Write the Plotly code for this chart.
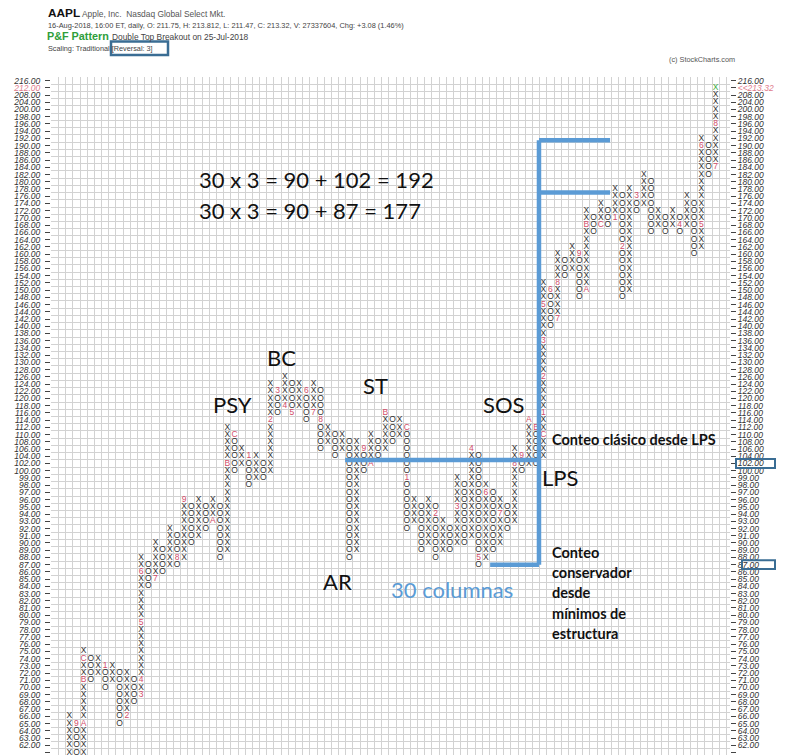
import numpy as np
import plotly.graph_objects as go

# traditional P&F box scale, top row first (box 4 above 200, 2 from 100, 1 below 100)
BOXES = [216, 212, 208, 204] + list(range(200, 99, -2)) + list(range(99, 56, -1))

# one entry per column: first box and last box (X columns rise, O columns fall)
COL_FROM = [58, 65, 58, 74, 72, 73, 71, 72, 66, 71,
            69, 87, 85, 89, 87, 91, 88, 95, 91, 95,
            93, 95, 89, 110, 102, 104, 99, 102, 100, 122,
            118, 124, 118, 122, 116, 122, 108, 110, 106, 108,
            89, 106, 102, 108, 106, 114, 110, 112, 93, 95,
            90, 95, 89, 92, 90, 98, 91, 104, 88, 97,
            90, 95, 93, 104, 102, 112, 104, 150, 142, 158,
            156, 160, 150, 170, 168, 172, 170, 176, 150, 176,
            174, 180, 168, 170, 168, 170, 168, 174, 162, 190,
            184]
COL_TO = [66, 57, 75, 71, 74, 70, 73, 65, 72, 68,
          88, 84, 90, 86, 92, 87, 96, 90, 96, 92,
          96, 88, 112, 100, 106, 98, 104, 99, 124, 116,
          126, 116, 124, 114, 124, 106, 112, 104, 110, 88,
          108, 100, 110, 104, 116, 108, 114, 92, 96, 89,
          96, 88, 93, 89, 99, 90, 106, 87, 98, 89,
          96, 92, 106, 100, 114, 102, 152, 140, 160, 154,
          162, 148, 172, 166, 174, 168, 178, 148, 178, 172,
          182, 166, 172, 166, 172, 166, 176, 160, 192, 182,
          212]

# month markers shown instead of the X/O (1-9 = Jan-Sep, A-C = Oct-Dec)
MONTH_COL = [1, 2, 2, 2, 5, 8, 10, 10, 10, 10, 12, 15, 16, 20, 22, 23, 25, 28, 29, 30,
             31, 33, 34, 35, 41, 42, 44, 47, 47, 51, 54, 56, 57, 58, 60, 62, 63, 64, 65, 66,
             66, 66, 66, 66, 67, 68, 68, 71, 72, 72, 74, 76, 77, 79, 85, 88, 88, 90, 90]
MONTH_BOX = [65, 65, 71, 74, 73, 66, 69, 71, 79, 86, 85, 88, 96, 93, 102, 110, 104, 114, 122, 118,
             116, 122, 116, 114, 106, 102, 116, 112, 99, 94, 95, 106, 88, 97, 94, 102, 104, 114, 112, 110,
             116, 126, 136, 146, 150, 142, 152, 160, 150, 168, 168, 170, 162, 176, 168, 168, 190, 184, 196]
MONTH_TXT = ["9", "A", "B", "C", "1", "2", "3", "4", "5", "6", "7", "8", "9", "A", "B", "C", "1", "2", "3", "4",
             "5", "6", "7", "8", "9", "A", "B", "C", "1", "2", "3", "4", "5", "6", "7", "8", "9", "A", "B", "C",
             "1", "2", "3", "5", "6", "7", "8", "9", "A", "B", "C", "1", "2", "3", "4", "5", "6", "7", "8"]

LAST_CLOSE = 213.32
CURRENT_BOX = 212
MARKED_LEVELS = [102, 87]

# count lines (column, price)
LPS_LINE = [(38.4, 103), (65.6, 103)]
COUNT_AXIS = [(65.4, 191.5), (65.4, 87)]
SPRING_LINE = [(58.6, 87), (65.4, 87)]
TARGET_192 = [(65.4, 191.5), (75.3, 191.5)]
TARGET_177 = [(65.4, 177), (75.3, 177)]

ROW = {p: i for i, p in enumerate(BOXES)}


def row_of(price):
    return float(np.interp(price, BOXES[::-1], list(range(len(BOXES)))[::-1]))


# page sits 8px in from the window corner, so the figure is 8px smaller
W, H = 780, 747
L, R, T, B = 43, 58, 69, 0
PAGE_L, PAGE_T = L + 8, T + 8
PW, PH = W - L - R, H - T - B


def px(x):
    return (x - PAGE_L) / PW


def py(y):
    return 1 - (y - PAGE_T) / PH


marks = {(c, p): s for c, p, s in zip(MONTH_COL, MONTH_BOX, MONTH_TXT)}
last_col = len(COL_FROM) - 1
gx, gy, gt, mx, my, mt, cx, cy = [], [], [], [], [], [], [], []
for c, (a, b) in enumerate(zip(COL_FROM, COL_TO)):
    kind = "X" if b > a else "O"
    r0, r1 = sorted((ROW[a], ROW[b]))
    for r in range(r0, r1 + 1):
        p = BOXES[r]
        if c == last_col and p == CURRENT_BOX:
            cx.append(c); cy.append(r)
        elif (c, p) in marks:
            mx.append(c); my.append(r); mt.append(marks[(c, p)])
        else:
            gx.append(c); gy.append(r); gt.append(kind)

GLYPH_FONT = "Liberation Sans"
fig = go.Figure()
fig.add_trace(go.Scatter(x=gx, y=gy, text=gt, mode="text", hoverinfo="skip",
                         textfont=dict(family=GLYPH_FONT, size=8.5, color="#333333")))
fig.add_trace(go.Scatter(x=mx, y=my, text=mt, mode="text", hoverinfo="skip",
                         textfont=dict(family=GLYPH_FONT, size=8.5, color="#d24d6a")))
fig.add_trace(go.Scatter(x=cx, y=cy, text=["X"] * len(cx), mode="text", hoverinfo="skip",
                         textfont=dict(family=GLYPH_FONT, size=8.5, color="#3cb043")))
fig.add_trace(go.Scatter(x=[None], y=[None], yaxis="y2", mode="markers", hoverinfo="skip"))

rows = list(range(len(BOXES)))
left_txt = [f"{p:.2f}" for p in BOXES]
right_txt = list(left_txt)
left_txt[ROW[CURRENT_BOX]] = f'<span style="color:#e07b8c">{CURRENT_BOX:.2f}</span>'
right_txt[ROW[CURRENT_BOX]] = f'<span style="color:#e07b8c">&lt;&lt;{LAST_CLOSE:.2f}</span>'

yrange = [93.35, -0.5]
tickfont = dict(family="Liberation Sans", size=8.5, color="#333333", style="italic")
GRID = "#d2d2d2"

fig.update_layout(
    width=W, height=H, margin=dict(l=L, r=R, t=T, b=B),
    plot_bgcolor="white", paper_bgcolor="white", showlegend=False,
    xaxis=dict(range=[-2.55, 92.0], showticklabels=False, ticks="", showgrid=False,
               zeroline=False, showline=False,
               minor=dict(tick0=0.5, dtick=1, showgrid=True, gridcolor=GRID, gridwidth=1)),
    yaxis=dict(range=yrange, tickmode="array", tickvals=rows, ticktext=left_txt,
               ticks="outside", ticklen=5, tickcolor="#444", showgrid=False, zeroline=False,
               showline=False, tickfont=tickfont, ticklabelstandoff=3,
               minor=dict(tick0=0.5, dtick=1, showgrid=True, gridcolor=GRID, gridwidth=1)),
    yaxis2=dict(range=yrange, overlaying="y", side="right", anchor="x", tickmode="array",
                tickvals=rows, ticktext=right_txt, ticks="outside", ticklen=5, tickcolor="#444",
                showgrid=False, zeroline=False, showline=False, tickfont=tickfont),
)

# blue count lines
BLUE = "#5B9BD5"
for seg in [LPS_LINE, COUNT_AXIS, SPRING_LINE, TARGET_192, TARGET_177]:
    (c0, p0), (c1, p1) = seg
    fig.add_shape(type="line", xref="x", yref="y", x0=c0, x1=c1, y0=row_of(p0), y1=row_of(p1),
                  line=dict(color=BLUE, width=4.5))

# boxes drawn around the count levels on the right scale
for lvl, x0 in zip(MARKED_LEVELS, [736, 742]):
    r = ROW[lvl]
    fig.add_shape(type="rect", xref="paper", yref="y", x0=px(x0), x1=px(775), y0=r - 0.62, y1=r + 0.62,
                  line=dict(color="#3a6d94", width=2))
fig.add_shape(type="rect", xref="paper", yref="paper", x0=px(111), x1=px(168), y0=py(55), y1=py(41.5),
              line=dict(color="#3a6d94", width=2.5))

# header
header = [
    ("<b>AAPL</b>", 46, 13, 11.8, "#111111"),
    ("Apple, Inc.  Nasdaq Global Select Mkt.", 80, 13.5, 8.4, "#555555"),
    ("16-Aug-2018, 16:00 ET, daily, O: 211.75, H: 213.812, L: 211.47, C: 213.32, V: 27337604, "
     "Chg: +3.08 (1.46%)", 46, 25, 7.4, "#444444"),
    ("<b>P&amp;F Pattern</b>", 45, 36.5, 10.8, "#2e9e3a"),
    ("Double Top Breakout on 25-Jul-2018", 110, 37, 8.4, "#444444"),
    ("Scaling: Traditional [Reversal: 3]", 46, 48.5, 7.3, "#444444"),
    ("(c) StockCharts.com", 667, 60, 7.3, "#555555"),
]
for txt, x, y, size, color in header:
    fig.add_annotation(text=txt, xref="paper", yref="paper", x=px(x), y=py(y), xanchor="left",
                       yanchor="middle", showarrow=False,
                       font=dict(family="Liberation Sans", size=size, color=color))

# Wyckoff labels and count notes (column, price)
NOTE_FONT = "Lato"
labels = [("PSY", 22.7, 118.2), ("BC", 29.5, 131.3), ("ST", 42.6, 123.5), ("SOS", 60.4, 118.2),
          ("AR", 37.4, 84.6), ("LPS", 68.3, 99.0)]
for txt, c, p in labels:
    fig.add_annotation(text=txt, x=c, y=row_of(p), showarrow=False, xanchor="center", yanchor="middle",
                       font=dict(family=NOTE_FONT, size=22, color="#111111"))

for txt, p in [("30 x 3 = 90 + 102 = 192", 180.6), ("30 x 3 = 90 + 87 = 177", 172.0)]:
    fig.add_annotation(text=txt, x=17.8, y=row_of(p), showarrow=False, xanchor="left", yanchor="middle",
                       font=dict(family=NOTE_FONT, size=22, color="#111111"))

fig.add_annotation(text="30 columnas", x=53.3, y=row_of(83.5), showarrow=False, xanchor="center",
                   yanchor="middle", font=dict(family=NOTE_FONT, size=22, color=BLUE))

fig.add_annotation(text="<b>Conteo clásico desde LPS</b>", x=67.0, y=row_of(108.6), showarrow=False,
                   xanchor="left", yanchor="middle", font=dict(family=NOTE_FONT, size=14.5, color="#111111"))
for i, line in enumerate(["Conteo", "conservador", "desde", "mínimos de", "estructura"]):
    fig.add_annotation(text=f"<b>{line}</b>", x=67.0, y=row_of(88.7 - 2.8 * i), showarrow=False,
                       xanchor="left", yanchor="middle",
                       font=dict(family=NOTE_FONT, size=14.5, color="#111111"))

fig.write_html("out.html")
